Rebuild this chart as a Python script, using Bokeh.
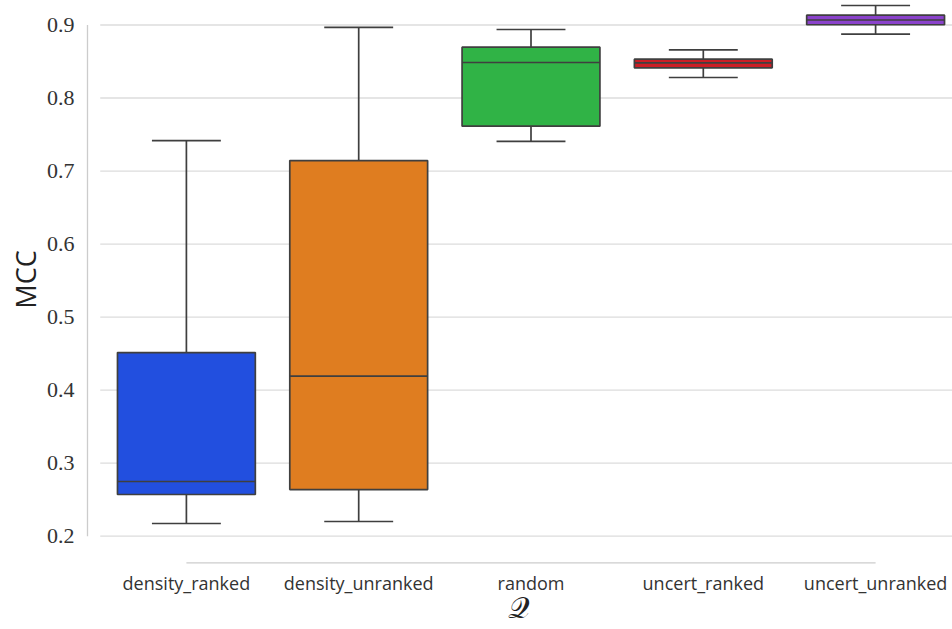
from bokeh.plotting import figure
from bokeh.models import FixedTicker, Range1d
from bokeh.embed import file_html
from bokeh.resources import INLINE

categories = ["density_ranked", "density_unranked", "random", "uncert_ranked", "uncert_unranked"]
whisker_low = [0.2174, 0.2201, 0.7405, 0.8281, 0.8874]
q1 = [0.2571, 0.2639, 0.7614, 0.8414, 0.9003]
median = [0.2749, 0.4191, 0.8486, 0.8480, 0.9068]
q3 = [0.4515, 0.7144, 0.8696, 0.8532, 0.9134]
whisker_high = [0.7417, 0.8967, 0.8938, 0.8660, 0.9267]
colors = ["#224fdf", "#df7d20", "#30b346", "#cb1d25", "#8a42cb"]
y_ticks = [0.2, 0.3, 0.4, 0.5, 0.6, 0.7, 0.8, 0.9]
x_label = "\U0001D4AC"
y_label = "MCC"

LINE = "#3f3f3f"
GRID = "#dcdcdc"
SPINE = "#cccccc"

x0, x1 = -0.5856, 4.4463
y0, y1 = 0.15851, 0.94448

p = figure(width=960, height=637, output_backend="svg", toolbar_location=None,
           x_range=Range1d(x0, x1), y_range=Range1d(y0, y1),
           min_border_left=93, min_border_right=0, min_border_top=0, min_border_bottom=63)
p.margin = (-8, -8, -8, -8)
p.outline_line_color = None
p.background_fill_color = "white"
p.border_fill_color = "white"
p.xgrid.visible = False
p.ygrid.visible = False

xs = list(range(len(categories)))

# grid lines
p.segment(x0=[-0.5] * len(y_ticks), x1=[x1 + 1] * len(y_ticks), y0=y_ticks, y1=y_ticks,
          line_color=GRID, line_width=1.3)

# trimmed, offset spines
px_per_x = 172.3
px_per_y = 730.3
p.segment(x0=[x0 + 2 / px_per_x], x1=[x0 + 2 / px_per_x], y0=[y_ticks[0]], y1=[y_ticks[-1]],
          line_color=SPINE, line_width=1.3)
p.segment(x0=[xs[0]], x1=[xs[-1]], y0=[y0 + 3.7 / px_per_y], y1=[y0 + 3.7 / px_per_y],
          line_color=SPINE, line_width=1.3)

# whiskers
p.segment(x0=xs, x1=xs, y0=q3, y1=whisker_high, line_color=LINE, line_width=1.7)
p.segment(x0=xs, x1=xs, y0=whisker_low, y1=q1, line_color=LINE, line_width=1.7)
p.segment(x0=[x - 0.2 for x in xs], x1=[x + 0.2 for x in xs], y0=whisker_high, y1=whisker_high,
          line_color=LINE, line_width=1.7)
p.segment(x0=[x - 0.2 for x in xs], x1=[x + 0.2 for x in xs], y0=whisker_low, y1=whisker_low,
          line_color=LINE, line_width=1.7)

# boxes
p.quad(left=[x - 0.4 for x in xs], right=[x + 0.4 for x in xs], bottom=q1, top=q3,
       fill_color=colors, line_color=LINE, line_width=1.7)
# medians
p.segment(x0=[x - 0.4 for x in xs], x1=[x + 0.4 for x in xs], y0=median, y1=median,
          line_color=LINE, line_width=1.7)

# axes
ya = p.yaxis[0]
ya.ticker = FixedTicker(ticks=y_ticks)
ya.major_label_overrides = {t: f"{t:.1f}" for t in y_ticks}
ya.axis_line_color = None
ya.major_tick_line_color = None
ya.minor_tick_line_color = None
ya.major_tick_out = 0
ya.major_tick_in = 0
ya.minor_tick_out = 0
ya.minor_tick_in = 0
ya.major_label_standoff = 11
ya.major_label_text_font = "Liberation Serif"
ya.major_label_text_font_size = "22px"
ya.major_label_text_color = "#333333"
ya.axis_label = y_label
ya.axis_label_text_font = "Open Sans"
ya.axis_label_text_font_style = "normal"
ya.axis_label_text_font_size = "27px"
ya.axis_label_text_color = "#222222"
ya.axis_label_standoff = 0

xa = p.xaxis[0]
xa.ticker = FixedTicker(ticks=xs)
xa.major_label_overrides = {i: c for i, c in enumerate(categories)}
xa.axis_line_color = None
xa.major_tick_line_color = None
xa.minor_tick_line_color = None
xa.major_tick_out = 0
xa.major_tick_in = 0
xa.minor_tick_out = 0
xa.minor_tick_in = 0
xa.major_label_standoff = 4
xa.major_label_text_font = "Open Sans"
xa.major_label_text_font_size = "18px"
xa.major_label_text_color = "#333333"
xa.axis_label = x_label
xa.axis_label_text_font = "DejaVu Serif"
xa.axis_label_text_font_style = "normal"
xa.axis_label_text_font_size = "30px"
xa.axis_label_text_color = "#222222"
xa.axis_label_standoff = -8

open("out.html", "w").write(file_html(p, INLINE))
